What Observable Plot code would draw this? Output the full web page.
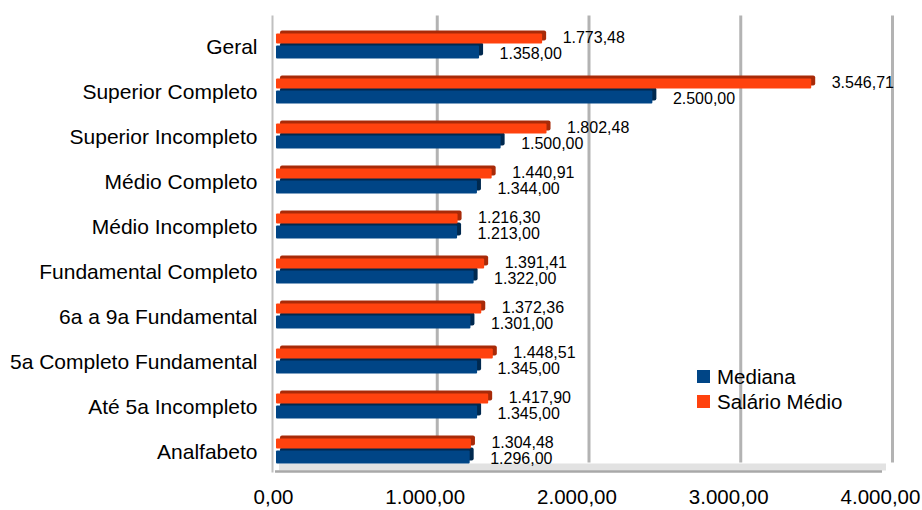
<!DOCTYPE html>
<html>
<head>
<meta charset="utf-8">
<script src="https://cdn.jsdelivr.net/npm/d3@7"></script>
<script src="https://cdn.jsdelivr.net/npm/@observablehq/plot@0.6"></script>
<style>
  html, body { margin: 0; padding: 0; background: #fff; }
  #wrap { position: relative; width: 922px; height: 510px; font-family: "Liberation Sans", Arial, sans-serif; }
  #legend { position: absolute; left: 697px; top: 364px; font-size: 20.5px; color: #000; line-height: 25px; }
  #legend .item { display: flex; align-items: center; white-space: nowrap; }
  #legend .sw { width: 13px; height: 13px; margin-right: 7px; display: inline-block; }
</style>
</head>
<body>
<div id="wrap"></div>
<script>
const categories = ["Geral", "Superior Completo", "Superior Incompleto", "Médio Completo", "Médio Incompleto", "Fundamental Completo", "6a a 9a Fundamental", "5a Completo Fundamental", "Até 5a Incompleto", "Analfabeto"];
const salarioMedio = [1773.48, 3546.71, 1802.48, 1440.91, 1216.30, 1391.41, 1372.36, 1448.51, 1417.90, 1304.48];
const mediana = [1358.00, 2500.00, 1500.00, 1344.00, 1213.00, 1322.00, 1301.00, 1345.00, 1345.00, 1296.00];
const xTicks = [0, 1000, 2000, 3000, 4000];
const seriesNames = ["Mediana", "Salário Médio"];
const colors = {"Mediana": "#004586", "Salário Médio": "#ff420e"};
const darkColors = {"Mediana": "#00294f", "Salário Médio": "#a82a08"};

function fmt(v) {
  const [i, d] = v.toFixed(2).split(".");
  return i.replace(/\B(?=(\d{3})+(?!\d))/g, ".") + "," + d;
}

const med = categories.map((c, i) => ({cat: c, v: mediana[i]}));
const sal = categories.map((c, i) => ({cat: c, v: salarioMedio[i]}));

const plot = Plot.plot({
  width: 922,
  height: 510,
  marginLeft: 273,
  marginRight: 42,
  marginTop: 22.4,
  marginBottom: 35.4,
  style: {fontFamily: "'Liberation Sans', Arial, sans-serif", fontSize: "20px", color: "#000", background: "#fff"},
  x: {domain: [0, 4000], axis: null},
  y: {domain: categories, padding: 0, axis: null},
  marks: [
    // back wall gridlines
    Plot.ruleX(xTicks.slice(1), {stroke: "#b3b3b3", strokeWidth: 3, dx: 12, insetTop: -7, insetBottom: 12}),
    // left wall
    Plot.ruleX([0], {stroke: "#c0c0c0", strokeWidth: 2, dx: -1, insetTop: -7, insetBottom: 2}),
    // floor
    Plot.ruleY(categories.slice(-1), {x1: 0, x2: 4000, dx: 6, dy: 15, stroke: "#e2e2e2", strokeWidth: 7}),
    Plot.ruleY(categories.slice(-1), {x1: 0, x2: 4000, dx: 2, dy: 19.5, stroke: "#a8a8a8", strokeWidth: 2.5}),
    // Mediana bars (3D side + front)
    Plot.barX(med, {y: "cat", x: "v", fill: darkColors["Mediana"], insetTop: 21.6, insetBottom: 10.6, insetLeft: 3, dx: 4, dy: -3, rx: 2}),
    Plot.barX(med, {y: "cat", x: "v", fill: colors["Mediana"], insetTop: 21.6, insetBottom: 10.6, insetLeft: 3, rx: 1}),
    // Salário Médio bars (3D side + front)
    Plot.barX(sal, {y: "cat", x: "v", fill: darkColors["Salário Médio"], insetTop: 9.6, insetBottom: 25.6, insetLeft: 3, dx: 4, dy: -3, rx: 2}),
    Plot.barX(sal, {y: "cat", x: "v", fill: colors["Salário Médio"], insetTop: 9.6, insetBottom: 25.6, insetLeft: 3, rx: 1}),
    // value labels
    Plot.text(sal, {y: "cat", x: "v", text: d => fmt(d.v), dx: 20, dy: -8.8, textAnchor: "start", fontSize: 16, fill: "#000"}),
    Plot.text(med, {y: "cat", x: "v", text: d => fmt(d.v), dx: 20, dy: 6.8, textAnchor: "start", fontSize: 16, fill: "#000"}),
    // axes
    Plot.axisY({tickSize: 0, tickPadding: 16, label: null, fontSize: 21}),
    Plot.axisX({ticks: xTicks, tickFormat: fmt, tickSize: 0, tickPadding: 14.5, label: null, fontSize: 20.5})
  ]
});

const wrap = document.getElementById("wrap");
wrap.appendChild(plot);

const legend = document.createElement("div");
legend.id = "legend";
for (const name of seriesNames) {
  const item = document.createElement("div");
  item.className = "item";
  const sw = document.createElement("span");
  sw.className = "sw";
  sw.style.background = colors[name];
  const label = document.createElement("span");
  label.textContent = name;
  item.appendChild(sw);
  item.appendChild(label);
  legend.appendChild(item);
}
wrap.appendChild(legend);
</script>
</body>
</html>
